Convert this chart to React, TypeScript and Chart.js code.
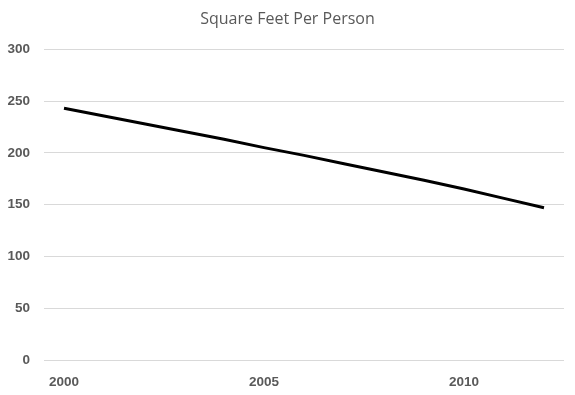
import React, { useEffect, useRef } from "react";
import { Chart, registerables } from "chart.js";

Chart.register(...registerables);

const TITLE = "Square Feet Per Person";
const YEARS = ["2000", "2001", "2002", "2003", "2004", "2005", "2006", "2007", "2008", "2009", "2010", "2011", "2012"];
const SQFT_PER_PERSON = [243, 235.5, 228, 220.5, 213, 205, 197.5, 189.5, 181.5, 173.5, 165, 156, 147];
const Y_MIN = 0;
const Y_MAX = 300;
const Y_STEP = 50;
const LABEL_EVERY = 5;

export default function App() {
  const ref = useRef<HTMLCanvasElement | null>(null);

  useEffect(() => {
    document.body.style.margin = "0";
    const canvas = ref.current;
    if (!canvas) return;
    const chart = new Chart(canvas, {
      type: "line",
      data: {
        labels: YEARS,
        datasets: [
          {
            label: TITLE,
            data: SQFT_PER_PERSON,
            borderColor: "#000000",
            borderWidth: 3,
            pointRadius: 0,
            fill: false,
            tension: 0,
            yAxisID: "y",
          },
        ],
      },
      options: {
        responsive: false,
        animation: false,
        layout: { padding: 0 },
        plugins: {
          legend: { display: false },
          tooltip: { enabled: false },
          title: {
            display: true,
            text: TITLE,
            color: "#595959",
            font: { family: "'Open Sans', sans-serif", size: 16, weight: "normal" },
            padding: { top: 10, bottom: 20 },
          },
        },
        scales: {
          x: {
            type: "category",
            offset: true,
            grid: { display: false, drawTicks: false },
            border: { display: false },
            ticks: {
              autoSkip: false,
              maxRotation: 0,
              color: "#595959",
              padding: 14,
              font: { family: "'Liberation Sans', Arial, sans-serif", size: 13.5, weight: "bold" },
              callback: (_v: any, i: number) => (i % LABEL_EVERY === 0 ? YEARS[i] : ""),
            },
            afterFit: (scale: any) => {
              scale.height = 35;
            },
          },
          y: {
            position: "left",
            min: Y_MIN,
            max: Y_MAX,
            grid: { color: "#d9d9d9", lineWidth: 1, drawTicks: false },
            border: { display: false },
            ticks: {
              stepSize: Y_STEP,
              color: "#595959",
              padding: 14,
              font: { family: "'Liberation Sans', Arial, sans-serif", size: 13.5, weight: "bold" },
            },
            afterFit: (scale: any) => {
              scale.width = 44;
            },
          },
          yRight: {
            position: "right",
            min: Y_MIN,
            max: Y_MAX,
            grid: { display: false, drawOnChartArea: false, drawTicks: false },
            border: { display: false },
            ticks: { display: false },
            afterFit: (scale: any) => {
              scale.width = 11;
            },
          },
        },
      },
    });
    return () => chart.destroy();
  }, []);

  return (
    <div style={{ width: 575, height: 395, background: "#ffffff" }}>
      <canvas ref={ref} width={575} height={395} style={{ display: "block" }} />
    </div>
  );
}
